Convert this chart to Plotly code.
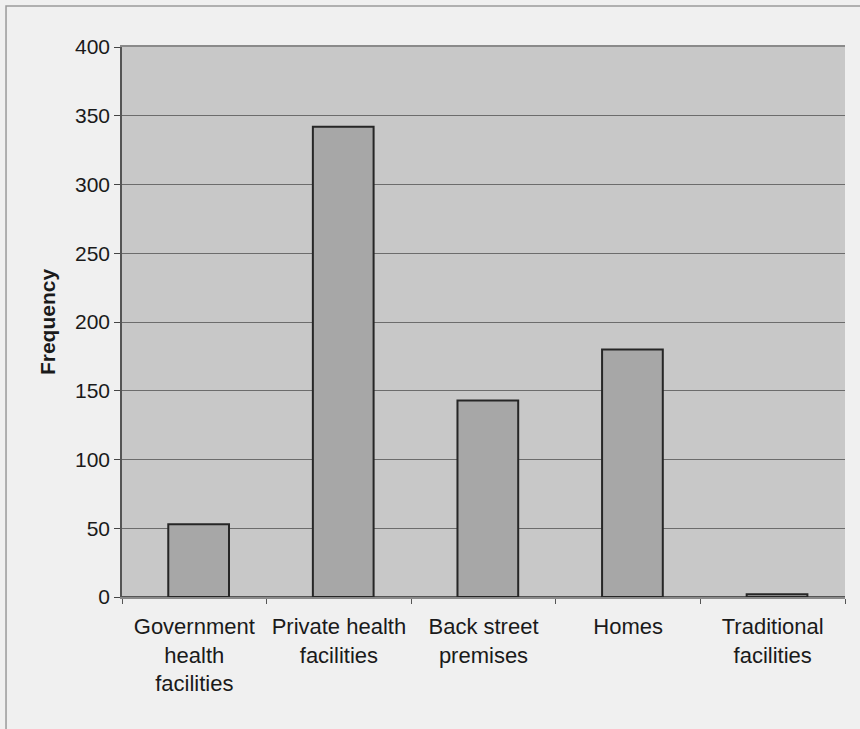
import plotly.graph_objects as go

# Place of procedure and number of respondents
categories = [
    "Government<br>health<br>facilities",
    "Private health<br>facilities",
    "Back street<br>premises",
    "Homes",
    "Traditional<br>facilities",
]
frequency = [53, 342, 143, 180, 2]
y_ticks = [0, 50, 100, 150, 200, 250, 300, 350, 400]

FONT = "Liberation Sans, Arial, sans-serif"

fig = go.Figure(
    go.Bar(
        x=categories,
        y=frequency,
        width=0.42,
        offset=-0.18,
        marker=dict(color="#a7a7a7", line=dict(color="#262626", width=2)),
    )
)

fig.update_layout(
    width=860,
    height=729,
    margin=dict(l=122, r=15, t=47, b=132),
    paper_bgcolor="#f0f0f0",
    plot_bgcolor="#c8c8c8",
    showlegend=False,
    font=dict(family=FONT, size=21, color="#1a1a1a"),
    shapes=[
        # outer chart frame
        dict(
            type="rect", xref="paper", yref="paper",
            x0=-0.1604, x1=1.05, y0=-0.26, y1=1.0745,
            line=dict(color="#9a9a9a", width=1.5),
            fillcolor="rgba(0,0,0,0)", layer="below",
        )
    ],
)

fig.update_xaxes(
    type="category",
    tickson="boundaries",
    ticks="outside",
    ticklen=5,
    tickcolor="#555555",
    showline=True,
    linecolor="#8a8a8a",
    linewidth=1.5,
    mirror=True,
    showgrid=False,
    ticklabelstandoff=9,
    tickfont=dict(family=FONT, size=22, color="#1a1a1a"),
)

fig.update_yaxes(
    range=[0, 400],
    tickvals=y_ticks,
    ticks="outside",
    ticklen=6,
    tickcolor="#444444",
    showline=True,
    linecolor="#555555",
    linewidth=1.5,
    showgrid=True,
    gridcolor="#6c6c6c",
    gridwidth=1.2,
    zeroline=True,
    zerolinecolor="#555555",
    zerolinewidth=1.5,
    tickfont=dict(family=FONT, size=21, color="#1a1a1a"),
    title=dict(text="<b>Frequency</b>", font=dict(family=FONT, size=21, color="#1a1a1a"), standoff=14),
)

fig.write_html("out.html")
